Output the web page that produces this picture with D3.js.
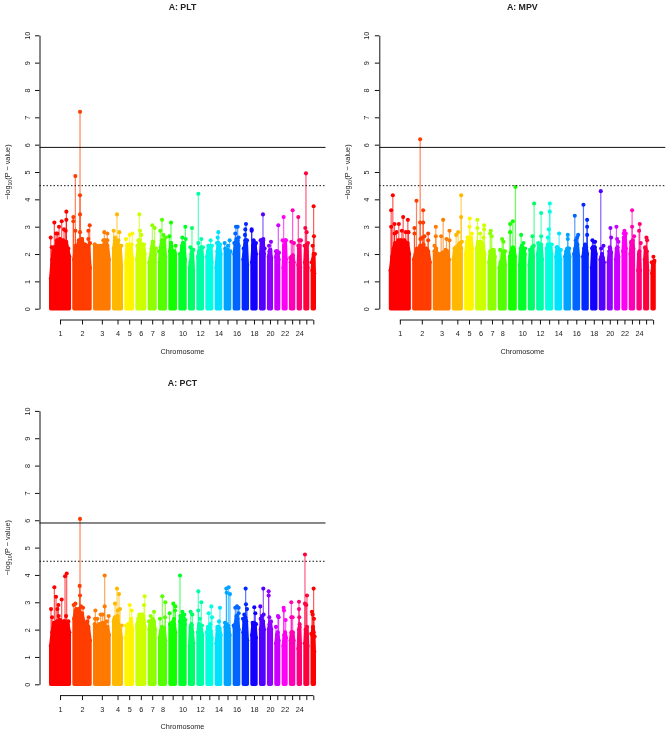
<!DOCTYPE html>
<html>
<head>
<meta charset="utf-8">
<script src="https://cdn.jsdelivr.net/npm/d3@7/dist/d3.min.js"></script>
<style>
  body { margin: 0; background: #fff; }
  svg { display: block; font-family: "Liberation Sans", Arial, sans-serif; filter: blur(0.3px); }
  text { fill: #222; }
</style>
</head>
<body>
<script>
var width = 669;
var height = 733;

// chromosome start along the genome (same arbitrary unit as the peak positions)
var chromStart = [0,70,132,189,226,259,296,327,358,388,417,442,469,497,524,551,578,604,630,654,676,698,720,743,763,785];
var genomeEnd = 803;
var chromLabels = [1,2,3,4,5,6,7,8,"",10,"",12,"",14,"",16,"",18,"",20,"",22,"",24,"",""];
var yTicks = [0,1,2,3,4,5,6,7,8,9,10];
var thresholds = [5.9, 4.5];

// top of the solid mass of points, per chromosome
var massPLT = [
  [1.1,1.8,2.25,1.9,2.5,2.2,2.55,2.4,2.5,2.2,2.45,2.15,1.9],[1.8,2.3,2.2,2.5,2.3,2.55,2.2,2.35,2.0,2.3,1.5],
  [2.35,2.1,2.25,1.9,2.3,2.0,2.35,2.5,2.3,1.8],[2.2,2.5,2.3,2.45,2.2,2.3,1.6],[1.7,2.3,2.1,2.35,2.2,1.8],
  [1.8,2.3,2.5,2.2,2.35,2.35,2.0],[1.7,1.85,2.2,2.45,2.2,2.0],[1.7,2.25,2.5,2.3,2.5,1.9],[2.1,2.4,2.1,1.9,2.1,2.0],
  [2.0,1.9,2.3,2.4,2.2,1.8],[1.5,1.7,2.0,2.15,1.4],[1.9,2.1,2.0,2.25,1.9],[1.9,2.1,2.3,2.2,2.3,1.7],
  [1.5,2.1,2.4,2.3,2.0],[2.2,2.1,2.15,1.9,2.05],[2.0,2.4,2.55,2.5,2.3],[1.8,2.2,2.5,2.45,1.6],[1.7,2.3,2.4,2.35,2.0],
  [2.0,2.5,2.3,2.5,2.0],[1.9,2.1,2.15,1.85],[1.9,2.1,2.05,1.8],[1.5,2.3,2.2,2.5,1.8],[1.7,1.9,1.85,1.95,1.7],
  [1.6,2.2,2.3,1.5],[1.7,2.3,2.1,2.35,1.5],[1.4,1.8,2.0,1.3]
];
var massMPV = [
  [1.4,1.9,2.2,2.4,2.2,2.5,2.3,2.5,2.3,2.5,2.2,2.4,2.0],[1.8,2.0,2.2,2.1,2.3,2.2,2.35,2.1,2.2,2.1,1.7],
  [2.1,2.2,1.8,2.0,1.9,2.05,2.0,2.15,2.1,1.8],[1.8,2.2,2.25,2.2,2.35,2.4,2.2],[2.0,2.45,2.6,2.5,2.6,2.2],
  [2.2,2.45,2.35,2.45,2.4,2.3,2.0],[1.7,2.1,2.0,2.15,2.1,1.9],[1.5,1.7,1.75,2.05,2.1,1.6],[1.9,2.05,2.2,2.0,2.15,1.9],
  [1.6,2.2,2.3,2.1,2.2,2.0],[1.6,2.15,2.1,2.25,1.9],[2.0,2.3,2.2,2.35,1.8],[2.2,2.35,2.2,2.3,2.35,2.0],
  [1.9,2.25,2.2,2.1,1.8],[1.9,2.1,2.2,2.2,1.9],[2.0,2.2,2.4,2.35,1.9],[1.9,2.2,2.35,2.25,2.0],[1.5,2.25,2.2,2.25,2.0],
  [1.8,1.9,2.0,1.85,1.7],[1.7,2.1,2.2,2.05],[1.8,2.2,2.25,1.9],[2.1,2.6,2.5,2.7,2.2],[2.0,2.4,2.25,2.5,2.2],
  [1.4,2.0,2.1,1.4],[1.8,2.2,2.0,2.1,1.4],[1.3,1.6,1.7,1.7]
];
var massPCT = [
  [1.4,1.9,2.25,2.0,2.3,2.1,2.35,2.0,2.15,2.3,2.1,2.2,1.9],[2.4,2.7,2.6,2.75,2.5,2.6,2.3,2.0,2.2,2.1,1.6],
  [2.2,2.05,2.15,2.2,2.0,2.25,2.2,2.05,2.1,1.8],[2.3,2.45,2.3,2.5,2.1,2.0,1.7],[1.7,2.1,2.05,2.2,2.4,2.0],
  [2.1,2.4,2.5,2.45,2.55,2.5,2.1],[2.0,2.3,2.2,2.35,2.3,2.0],[1.7,1.95,2.1,1.9,2.05,1.6],[2.2,2.1,2.25,2.3,2.2,1.9],
  [2.3,2.5,2.35,2.55,2.4,2.2],[1.4,2.1,2.2,1.9,1.5],[1.9,2.2,2.1,2.0,1.8],[1.9,2.1,2.0,2.1,1.95,1.7],
  [1.5,2.0,2.1,2.05,1.8],[2.1,2.2,2.1,2.05,1.8],[2.1,2.2,2.5,2.4,2.0],[1.9,2.3,2.45,2.3,1.6],[1.8,2.2,2.25,2.2,1.7],
  [2.0,2.35,2.2,2.3,2.0],[2.0,2.2,2.25,2.0],[1.5,1.8,1.9,1.6],[1.4,1.8,1.9,1.7],[1.6,1.9,1.8,1.9,1.6],
  [1.3,2.0,2.1,1.5],[1.5,2.0,1.9,2.1,1.4],[1.8,2.1,1.9,1.2]
];

// SNPs standing above the mass: [genome position, -log10(p)]
var peaksPLT = [
  [6,2.6],[9,2.25],[17,3.15],[22,2.75],[26,2.75],[31,3.0],[39,3.2],[46,2.9],[51,2.85],[53,3.55],[53,3.25],[34,2.5],[59,2.2],
  [74,3.35],[74,3.2],[80,4.85],[80,2.85],[94,7.2],[94,4.15],[94,3.45],[94,2.8],[99,2.55],[106,2.35],[119,2.85],[119,2.55],[123,3.05],[124,2.4],
  [138,2.35],[148,2.3],[154,2.3],[167,2.8],[176,2.75],[176,2.5],[164,2.5],
  [195,2.85],[205,3.45],[212,2.8],[199,2.6],[209,2.5],[218,2.3],
  [232,2.55],[243,2.7],[251,2.75],[249,2.35],[237,2.35],
  [272,3.45],[274,2.85],[278,2.7],[269,2.5],[286,2.35],[266,2.3],
  [311,3.05],[318,2.95],[314,2.45],[322,2.2],
  [335,2.85],[340,3.25],[344,2.7],[351,2.6],[331,2.1],
  [362,2.65],[367,3.15],[367,2.4],[381,2.3],[372,2.1],
  [401,2.6],[410,3.0],[411,2.55],[404,2.4],
  [430,2.95],[425,2.25],[434,2.15],
  [449,4.2],[449,2.4],[458,2.55],[463,2.25],[455,2.1],
  [486,2.5],[479,2.3],[490,2.3],
  [509,2.8],[507,2.6],[505,2.4],[514,2.35],
  [528,2.4],[543,2.5],[538,2.3],[533,2.15],[545,2.1],
  [562,3.0],[567,3.0],[560,2.75],[570,2.6],[557,2.4],
  [592,3.1],[590,2.9],[589,2.7],[595,2.5],[585,2.2],
  [609,2.9],[609,2.85],[615,2.5],[622,2.4],
  [643,3.45],[636,2.5],[644,2.55],[648,2.2],
  [661,2.3],[667,2.45],[664,2.1],
  [689,3.05],[682,2.1],[691,2.05],
  [705,3.35],[702,2.5],[712,2.5],[707,2.2],
  [732,3.6],[728,2.45],[736,2.4],[725,1.85],
  [749,3.35],[752,2.5],[757,2.5],[749,2.3],
  [772,4.95],[770,2.95],[774,2.8],[778,2.4],[768,2.3],
  [795,3.75],[796,2.65],[792,2.3],[799,2.0],[789,1.7]
];
var peaksMPV = [
  [8,3.6],[8,3.0],[13,4.15],[18,3.1],[18,2.75],[24,2.8],[31,3.1],[40,2.85],[44,3.35],[52,2.8],[58,3.25],[60,2.8],[35,2.5],[50,2.4],
  [78,2.95],[78,2.75],[84,3.95],[95,6.2],[95,3.15],[104,3.15],[104,3.6],[96,2.55],[102,2.6],[108,2.65],[119,2.75],[119,2.5],
  [142,3.0],[142,2.65],[138,2.3],[158,2.65],[164,3.25],[174,2.55],[183,2.85],[183,2.5],
  [203,2.7],[209,2.8],[218,4.15],[218,3.35],[220,2.45],[198,2.2],
  [244,3.3],[243,3.0],[250,2.75],[237,2.6],
  [267,3.25],[267,2.95],[275,2.75],[287,3.05],[287,2.9],[285,2.6],
  [307,2.85],[305,2.75],[310,2.65],[316,2.15],
  [341,2.55],[345,2.45],[335,2.15],[350,2.1],
  [365,3.1],[365,2.8],[373,3.2],[381,4.45],[374,2.25],
  [398,2.7],[405,2.4],[410,2.2],
  [432,2.65],[437,3.85],[436,2.3],[425,2.15],
  [449,2.4],[458,3.5],[458,2.65],[454,2.3],
  [484,3.85],[484,3.55],[481,2.9],[478,2.6],[490,2.35],
  [512,2.75],[505,2.25],[517,2.15],
  [538,2.7],[538,2.55],[542,2.2],
  [559,3.4],[562,2.5],[569,2.7],[566,2.6],
  [585,3.8],[596,3.25],[596,3.0],[596,2.7],[590,2.3],
  [612,2.5],[620,2.45],[616,2.45],[611,2.2],
  [637,4.3],[645,2.3],[638,2.2],
  [666,2.95],[668,2.6],[664,2.25],
  [684,3.0],[686,2.55],[690,2.45],
  [708,2.85],[706,2.75],[712,2.75],
  [731,3.6],[731,3.0],[737,2.65],[728,2.45],
  [754,3.1],[752,2.85],[757,2.4],
  [774,2.6],[776,2.5],[770,2.25],
  [795,1.9],[790,1.7],[798,1.75]
];
var peaksPCT = [
  [7,2.75],[10,2.45],[17,3.55],[22,3.2],[26,2.75],[29,2.9],[30,2.5],[39,3.1],[49,3.95],[54,4.05],[52,2.5],[44,2.3],[59,2.3],
  [75,2.9],[80,2.95],[83,2.75],[94,6.05],[93,3.6],[94,3.25],[97,2.85],[103,2.8],[112,2.2],[120,2.45],[116,2.3],
  [140,2.7],[139,2.4],[146,2.4],[156,2.55],[162,2.55],[168,3.98],[168,2.85],[180,2.5],[174,2.3],
  [199,2.95],[205,3.5],[211,3.3],[214,2.75],[207,2.7],[197,2.4],[219,2.15],
  [243,2.9],[249,2.7],[232,2.15],[238,2.2],
  [288,3.22],[286,2.9],[272,2.55],[280,2.55],[266,2.2],
  [306,2.5],[316,2.65],[312,2.4],[301,2.3],
  [341,3.22],[350,3.0],[334,2.4],[349,2.45],
  [363,2.6],[374,2.95],[380,2.85],[379,2.7],[366,2.2],[376,2.4],
  [394,3.98],[401,2.65],[407,2.55],[395,2.5],[410,2.35],
  [426,2.65],[431,2.55],[429,2.15],
  [449,3.4],[458,3.0],[449,2.7],[454,2.4],[460,2.15],
  [480,2.6],[488,2.85],[490,2.45],[485,2.2],
  [514,2.8],[511,2.3],[506,2.1],
  [533,3.5],[540,3.55],[534,3.35],[544,3.3],[529,2.25],[538,2.15],
  [560,2.8],[565,2.85],[570,2.8],[570,2.6],[555,2.15],
  [591,3.5],[592,2.93],[595,2.75],[587,2.55],[583,2.4],
  [617,2.82],[620,2.6],[612,2.25],[622,2.2],
  [635,2.85],[644,3.5],[645,2.55],[636,2.4],[640,2.5],
  [660,3.4],[660,3.25],[662,2.45],[667,2.3],
  [688,2.5],[682,2.1],[690,2.45],
  [705,2.8],[706,2.7],[711,2.35],
  [728,3.0],[728,2.45],[732,2.45],
  [751,3.02],[751,2.75],[752,2.45],[753,2.2],
  [769,4.75],[769,2.95],[775,3.25],[773,2.9],
  [795,3.5],[790,2.65],[792,2.55],[796,2.4],[798,1.75],[788,1.85]
];

var dotR = 2.05;
var panelLeft = 39.5;
var plotRight = 325.5;

var x = d3.scaleLinear().domain([0, genomeEnd]).range([48.7, 316.3]);
var y = d3.scaleLinear().domain([0, 10]).range([308.7, 35.3]);

// rainbow(25), recycled for the last chromosome
function chromColor(i) { return d3.hsl(360 * (i % 25) / 25, 1, 0.5).formatHex(); }
function chromOf(pos) { return d3.bisectRight(chromStart, pos) - 1; }
function chromEnd(i) { return i + 1 < chromStart.length ? chromStart[i + 1] - 2 : genomeEnd; }

var centers = chromStart.map(function(s, i) { return (s + chromEnd(i)) / 2; });

var svg = d3.select("body").append("svg")
    .attr("width", width)
    .attr("height", height);

function drawPanel(title, mass, peaks, dx, dy) {
  var g = svg.append("g").attr("transform", "translate(" + dx + "," + dy + ")");

  g.append("text")
      .attr("x", 182.5).attr("y", 10)
      .attr("text-anchor", "middle")
      .style("font-size", "8.8px").style("font-weight", "bold")
      .text(title);

  // solid mass of each chromosome
  mass.forEach(function(tops, c) {
    var cx = d3.scaleLinear()
        .domain([0, tops.length - 1])
        .range([x(chromStart[c]) + dotR, x(chromEnd(c)) - dotR]);
    var area = d3.area()
        .x(function(d, i) { return cx(i); })
        .y0(y(0))
        .y1(function(d) { return y(d); });
    g.append("path")
        .attr("d", area(tops))
        .attr("fill", chromColor(c))
        .attr("stroke", chromColor(c))
        .attr("stroke-width", dotR * 1.7)
        .attr("stroke-linejoin", "round");
    g.selectAll(null).data(tops).enter().append("circle")
        .attr("cx", function(d, i) { return cx(i); })
        .attr("cy", function(d) { return y(d); })
        .attr("r", dotR)
        .attr("fill", chromColor(c));
  });

  // stems then dots
  g.selectAll(null).data(peaks).enter().append("line")
      .attr("x1", function(d) { return x(d[0]); })
      .attr("x2", function(d) { return x(d[0]); })
      .attr("y1", y(0))
      .attr("y2", function(d) { return y(d[1]); })
      .attr("stroke", function(d) { return chromColor(chromOf(d[0])); })
      .attr("stroke-width", 1.2)
      .attr("stroke-opacity", 0.65);
  g.selectAll(null).data(peaks).enter().append("circle")
      .attr("cx", function(d) { return x(d[0]); })
      .attr("cy", function(d) { return y(d[1]); })
      .attr("r", dotR)
      .attr("fill", function(d) { return chromColor(chromOf(d[0])); });

  // threshold lines
  g.selectAll(null).data(thresholds).enter().append("line")
      .attr("x1", panelLeft).attr("x2", plotRight)
      .attr("y1", function(d) { return y(d); })
      .attr("y2", function(d) { return y(d); })
      .attr("stroke", "#111")
      .attr("stroke-width", 1)
      .attr("stroke-dasharray", function(d, i) { return i ? "1.5,2" : null; });

  // y axis
  var yAxis = d3.axisLeft(y).tickValues(yTicks).tickSize(4.5).tickSizeOuter(0);
  var yg = g.append("g").attr("transform", "translate(" + panelLeft + ",0)").call(yAxis);
  yg.selectAll(".tick text")
      .attr("x", null).attr("dy", null)
      .attr("text-anchor", "middle")
      .attr("transform", "translate(-10,0) rotate(-90)")
      .style("font-size", "7.3px");

  // x axis, line runs between first and last tick only
  var xAxis = d3.axisBottom(x).tickValues(centers).tickSize(4.5).tickSizeOuter(0)
      .tickFormat(function(d, i) { return chromLabels[i]; });
  var xg = g.append("g").attr("transform", "translate(0,320)").call(xAxis);
  xg.select(".domain").attr("d", "M" + x(centers[0]) + ",0H" + x(centers[centers.length - 1]));
  xg.selectAll(".tick text")
      .attr("y", 16).attr("dy", null)
      .style("font-size", "7.3px");
  xg.selectAll("path, line").attr("stroke", "#111");
  yg.selectAll("path, line").attr("stroke", "#111");

  g.append("text")
      .attr("x", 182.5).attr("y", 353.5)
      .attr("text-anchor", "middle")
      .style("font-size", "7.3px")
      .text("Chromosome");

  // y label with subscript
  var yl = g.append("text")
      .attr("transform", "translate(10,172) rotate(-90)")
      .attr("text-anchor", "middle")
      .style("font-size", "7.3px");
  yl.append("tspan").text("\u2212log");
  yl.append("tspan").attr("dy", 1.8).style("font-size", "5.2px").text("10");
  yl.append("tspan").attr("dy", -1.8).text("(P \u2212 value)");
}

drawPanel("A: PLT", massPLT, peaksPLT, 0, 0);
drawPanel("A: MPV", massMPV, peaksMPV, 339.8, 0);
drawPanel("A: PCT", massPCT, peaksPCT, 0, 375.6);
</script>
</body>
</html>
